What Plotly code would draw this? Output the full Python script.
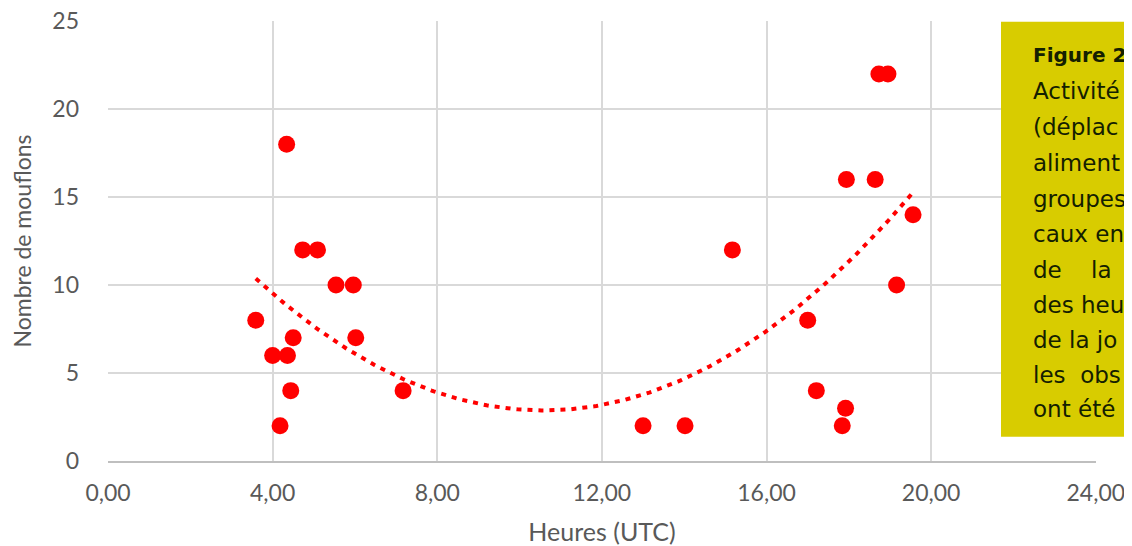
import numpy as np
import plotly.graph_objects as go

# Data
hours = [3.59, 4.00, 4.36, 4.18, 4.34, 4.44, 4.50, 4.73, 5.09, 5.54, 5.96, 6.02, 7.17,
         13.00, 14.02, 15.17, 17.00, 17.21, 17.84, 17.92, 17.94, 18.64, 18.73, 18.95,
         19.16, 19.56]
counts = [8, 6, 6, 2, 18, 4, 7, 12, 12, 10, 10, 7, 4,
          2, 2, 12, 8, 4, 2, 3, 16, 16, 22, 22,
          10, 14]

x_tickvals = [0, 4, 8, 12, 16, 20, 24]
x_ticktext = ["0,00", "4,00", "8,00", "12,00", "16,00", "20,00", "24,00"]
y_tickvals = [0, 5, 10, 15, 20, 25]
y_ticktext = ["0", "5", "10", "15", "20", "25"]

# Caption box text as visible in the reference (cut by the picture's right edge)
caption_title = "Figure 2"
caption_lines = [
    "Activité",
    "(déplac",
    "aliment",
    "groupes",
    "caux en",
    "de\u00a0\u00a0\u00a0\u00a0la",
    "des heu",
    "de la jo",
    "les\u00a0\u00a0obs",
    "ont été",
]

# Second-order polynomial trend line (fit of the data)
coef = np.polyfit(hours, counts, 2)
xt = np.linspace(min(hours), max(hours), 300)
yt = np.polyval(coef, xt)

# The page has an 8px body margin, so the figure is drawn 8px smaller
OFF = 8
W, H = 1132 - OFF, 546 - OFF
PX0, PX1, PY0, PY1 = 108, 1096, 21, 461   # plot area in page pixels
L, R, T, B = PX0 - OFF, W - (PX1 - OFF), PY0 - OFF, H - (PY1 - OFF)

def px2x(px):
    return (px - PX0) / (PX1 - PX0)

def py2y(py):
    return (PY1 - py) / (PY1 - PY0)

fig = go.Figure()
fig.add_trace(go.Scatter(
    x=xt, y=yt, mode="lines",
    line=dict(color="#FF0000", width=4, dash="5px,6px"),
    hoverinfo="skip", showlegend=False,
))
fig.add_trace(go.Scatter(
    x=hours, y=counts, mode="markers",
    marker=dict(color="#FF0000", size=17, line=dict(width=0)),
    showlegend=False,
))

fam = "Lato, Open Sans, sans-serif"
tick_font = dict(family=fam, size=23, color="#595959")

fig.update_layout(
    width=W, height=H,
    margin=dict(l=L, r=R, t=T, b=B, pad=0),
    paper_bgcolor="white", plot_bgcolor="white",
    xaxis=dict(
        range=[0, 24.005], tickvals=x_tickvals, ticktext=x_ticktext,
        showgrid=True, gridcolor="#D9D9D9", gridwidth=1.5,
        showline=True, linecolor="#BFBFBF", linewidth=1.5,
        zeroline=False, ticks="", tickfont=tick_font, ticklabelstandoff=11,
        ticklabeloverflow="allow",
        title=dict(text="Heures (UTC)", font=dict(family=fam, size=25, color="#595959"), standoff=19),
        automargin=False,
    ),
    yaxis=dict(
        range=[0, 25.01], tickvals=y_tickvals, ticktext=y_ticktext,
        showgrid=True, gridcolor="#D9D9D9", gridwidth=1.5,
        showline=False, zeroline=False, ticks="", tickfont=tick_font,
        ticklabelstandoff=28, ticklabeloverflow="allow",
        title=dict(text="Nombre de mouflons", font=dict(family=fam, size=23, color="#595959"), standoff=20),
        automargin=False,
    ),
)

# Yellow caption box (extends beyond the right edge)
fig.add_shape(type="rect", xref="paper", yref="paper",
              x0=px2x(1001), x1=px2x(1150), y0=py2y(436.7), y1=py2y(21.7),
              fillcolor="#D8CC00", line=dict(width=0), layer="above")

text_x = px2x(1031)
fig.add_annotation(xref="paper", yref="paper", x=text_x, y=py2y(55), xanchor="left", yanchor="middle",
                   text="<b>" + caption_title + "</b>", showarrow=False, align="left",
                   font=dict(family="DejaVu Sans, sans-serif", size=20, color="#142000"))
line_y = [91, 127, 163, 199, 234, 270, 305, 340, 375, 409]
for ly, txt in zip(line_y, caption_lines):
    fig.add_annotation(xref="paper", yref="paper", x=text_x, y=py2y(ly), xanchor="left", yanchor="middle",
                       text=txt, showarrow=False, align="left",
                       font=dict(family="DejaVu Sans, sans-serif", size=23, color="#142000"))

fig.write_html("out.html")
